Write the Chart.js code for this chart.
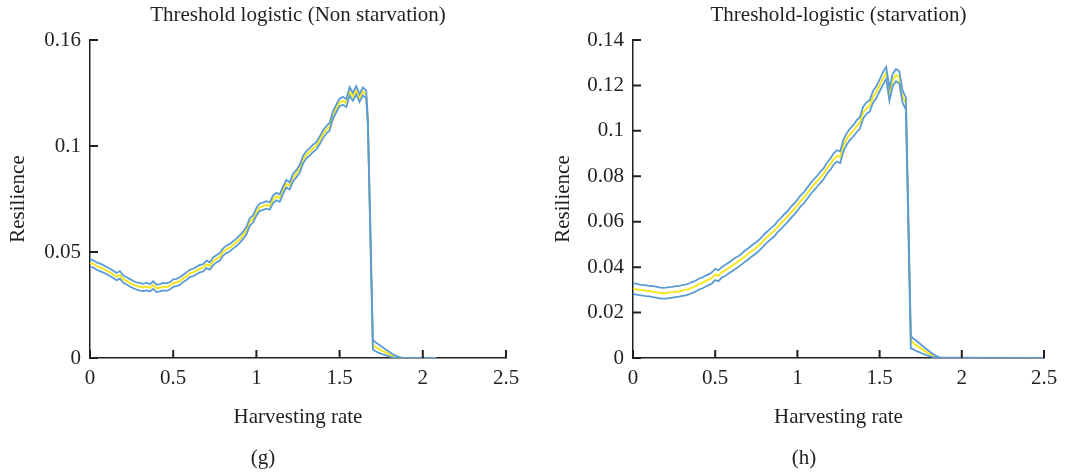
<!DOCTYPE html>
<html>
<head>
<meta charset="utf-8">
<script src="https://cdn.jsdelivr.net/npm/chart.js@4.4.1/dist/chart.umd.min.js"></script>
<style>
  body { margin: 0; background: #fff; }
  #wrap { position: relative; width: 1072px; height: 472px; }
  canvas { position: absolute; top: 0; }
  .tag { position: absolute; top: 445px; font: 21px/24px 'Liberation Serif', serif; color: #231f20; transform: translateX(-50%); }
</style>
</head>
<body>
<div id="wrap">
  <canvas id="chartG" width="536" height="472" style="left:0"></canvas>
  <canvas id="chartH" width="536" height="472" style="left:536px"></canvas>
  <div class="tag" style="left:263px">(g)</div>
  <div class="tag" style="left:804px">(h)</div>
</div>
<script>
// harvesting rate grid shared by both panels (0 .. 1.66)
const gridX = [0,0.02,0.04,0.06,0.08,0.1,0.12,0.14,0.16,0.18,0.2,0.22,0.24,0.26,0.28,0.3,0.32,0.34,0.36,0.38,
  0.4,0.42,0.44,0.46,0.48,0.5,0.52,0.54,0.56,0.58,0.6,0.62,0.64,0.66,0.68,0.7,0.72,0.74,0.76,0.78,
  0.8,0.82,0.84,0.86,0.88,0.9,0.92,0.94,0.96,0.98,1,1.02,1.04,1.06,1.08,1.1,1.12,1.14,1.16,1.18,
  1.2,1.22,1.24,1.26,1.28,1.3,1.32,1.34,1.36,1.38,1.4,1.42,1.44,1.46,1.48,1.5,1.52,1.54,1.56,1.58,
  1.6,1.62,1.64,1.66];
const tailXG = [1.67,1.7,1.72,1.74,1.76,1.78,1.8,1.82,1.84,1.86,1.88,2.08];
const tailXH = [1.69,1.7,1.72,1.74,1.76,1.78,1.8,1.82,1.84,1.86,1.88,2.5];

// (g) threshold logistic, non starvation
const meanG = [.0448,.0444,.0433,.0428,.0420,.0412,.0404,.0394,.0384,.0392,
  .0372,.0364,.0354,.0346,.0340,.0336,.0333,.0337,.0331,.0344,
  .0329,.0331,.0337,.0334,.0341,.0353,.0356,.0363,.0376,.0386,
  .0399,.0403,.0413,.0421,.0426,.0441,.0434,.0456,.0468,.0477,
  .0500,.0512,.0521,.0533,.0546,.0560,.0579,.0601,.0641,.0656,
  .0690,.0711,.0716,.0722,.0717,.0748,.0762,.0754,.0791,.0822,
  .0812,.0851,.0869,.0892,.0935,.0958,.0973,.0988,.1001,.1026,
  .1055,.1076,.1091,.1146,.1177,.1205,.1213,.1202,.1257,.1232,
  .1262,.1226,.1257,.1243,
  .1110,.0062,.0050,.0041,.0033,.0025,.0017,.0010,.0005,.0002,0,0];
const upperG = [.0466,.0461,.0451,.0445,.0438,.0429,.0421,.0412,.0401,.0410,
  .0389,.0381,.0372,.0363,.0357,.0354,.0350,.0355,.0348,.0362,
  .0346,.0349,.0354,.0352,.0358,.0371,.0373,.0381,.0393,.0404,
  .0416,.0421,.0430,.0439,.0443,.0459,.0451,.0474,.0485,.0495,
  .0517,.0530,.0538,.0551,.0563,.0578,.0596,.0619,.0659,.0673,
  .0708,.0729,.0733,.0740,.0734,.0766,.0779,.0772,.0808,.0840,
  .0829,.0869,.0886,.0910,.0953,.0976,.0990,.1006,.1018,.1044,
  .1073,.1094,.1109,.1164,.1195,.1223,.1232,.1221,.1277,.1251,
  .1282,.1245,.1276,.1262,
  .1125,.0085,.0072,.0061,.0050,.0039,.0028,.0018,.0010,.0004,.0001,0];
const lowerG = [.0430,.0427,.0416,.0410,.0403,.0395,.0387,.0377,.0367,.0374,
  .0355,.0347,.0337,.0329,.0323,.0318,.0316,.0319,.0314,.0326,
  .0311,.0314,.0319,.0317,.0323,.0336,.0339,.0345,.0359,.0368,
  .0382,.0386,.0395,.0404,.0408,.0424,.0417,.0438,.0451,.0460,
  .0483,.0494,.0504,.0516,.0528,.0543,.0562,.0583,.0623,.0639,
  .0672,.0694,.0699,.0704,.0700,.0731,.0744,.0737,.0774,.0804,
  .0795,.0833,.0852,.0874,.0917,.0941,.0955,.0971,.0984,.1008,
  .1037,.1059,.1073,.1128,.1159,.1188,.1195,.1184,.1238,.1214,
  .1243,.1208,.1239,.1225,
  .1095,.0040,.0030,.0023,.0017,.0012,.0007,.0003,.0001,0,0,0];

// (h) threshold-logistic, starvation
const meanH = [.0305,.0302,.0300,.0298,.0296,.0295,.0292,.0290,.0287,.0285,
  .0285,.0288,.0290,.0292,.0293,.0297,.0300,.0304,.0310,.0316,
  .0325,.0330,.0338,.0345,.0352,.0368,.0362,.0378,.0385,.0395,
  .0405,.0415,.0425,.0435,.0447,.0458,.0470,.0480,.0492,.0505,
  .0522,.0535,.0548,.0560,.0578,.0592,.0608,.0622,.0640,.0655,
  .0672,.0692,.0706,.0725,.0745,.0762,.0778,.0795,.0812,.0835,
  .0852,.0875,.0890,.0885,.0935,.0965,.0985,.1000,.1020,.1035,
  .1080,.1100,.1110,.1150,.1170,.1200,.1230,.1255,.1160,.1225,
  .1245,.1235,.1150,.1120,
  .0080,.0068,.0058,.0048,.0038,.0028,.0020,.0012,.0006,.0002,0,0];
const upperH = [.0329,.0327,.0323,.0322,.0320,.0318,.0316,.0314,.0311,.0309,
  .0310,.0312,.0313,.0316,.0318,.0321,.0323,.0328,.0334,.0340,
  .0349,.0354,.0362,.0368,.0377,.0393,.0386,.0401,.0409,.0419,
  .0429,.0440,.0448,.0459,.0472,.0482,.0494,.0505,.0516,.0530,
  .0546,.0559,.0573,.0584,.0603,.0616,.0633,.0646,.0665,.0679,
  .0697,.0717,.0730,.0750,.0769,.0787,.0802,.0820,.0836,.0860,
  .0877,.0900,.0915,.0910,.0960,.0990,.1010,.1025,.1046,.1060,
  .1106,.1125,.1135,.1176,.1196,.1226,.1257,.1282,.1188,.1252,
  .1272,.1262,.1177,.1147,
  .0100,.0088,.0078,.0066,.0054,.0042,.0031,.0020,.0011,.0004,.0001,0];
const lowerH = [.0282,.0279,.0277,.0275,.0272,.0271,.0268,.0266,.0263,.0261,
  .0262,.0264,.0266,.0268,.0270,.0273,.0276,.0280,.0286,.0292,
  .0301,.0306,.0314,.0321,.0328,.0343,.0338,.0354,.0361,.0371,
  .0381,.0391,.0401,.0411,.0423,.0434,.0446,.0456,.0468,.0481,
  .0498,.0511,.0524,.0536,.0554,.0568,.0584,.0598,.0616,.0631,
  .0648,.0668,.0682,.0701,.0721,.0738,.0754,.0771,.0788,.0811,
  .0828,.0851,.0865,.0858,.0910,.0940,.0960,.0975,.0994,.1010,
  .1054,.1075,.1085,.1124,.1144,.1174,.1203,.1228,.1132,.1198,
  .1218,.1208,.1123,.1093,
  .0042,.0040,.0032,.0026,.0020,.0014,.0009,.0005,.0002,0,0,0];

const xTickLabels = ['0', '0.5', '1', '1.5', '2', '2.5'];
const yTickLabelsG = ['0', '0.05', '0.1', '0.16'];
const yTickLabelsH = ['0', '0.02', '0.04', '0.06', '0.08', '0.1', '0.12', '0.14'];

const BLUE = '#5b9bd5';
const YELLOW = '#f5e61e';
const INK = '#231f20';
const FONT = "'Liberation Serif', 'Times New Roman', serif";
const FS = 21;

// small tick marks drawn inward from the axes
const innerTicks = {
  id: 'innerTicks',
  afterDraw(chart) {
    const { ctx, chartArea: a, scales: { x, y } } = chart;
    ctx.save();
    ctx.strokeStyle = INK;
    ctx.lineWidth = 2;
    ctx.beginPath();
    x.ticks.forEach(t => {
      const px = x.getPixelForValue(t.value);
      ctx.moveTo(px, a.bottom);
      ctx.lineTo(px, a.bottom - 8);
    });
    y.ticks.forEach(t => {
      const py = y.getPixelForValue(t.value);
      ctx.moveTo(a.left, py);
      ctx.lineTo(a.left + 8, py);
    });
    ctx.stroke();
    ctx.restore();
  }
};

function points(xs, ys) {
  return xs.map((x, i) => ({ x: x, y: ys[i] }));
}

function makeChart(id, cfg) {
  const xs = gridX.concat(cfg.tailX);
  return new Chart(document.getElementById(id), {
    type: 'line',
    data: {
      datasets: [
        { data: points(xs, cfg.upper), borderColor: BLUE, borderWidth: 1.8 },
        { data: points(xs, cfg.lower), borderColor: BLUE, borderWidth: 1.8 },
        { data: points(xs, cfg.mean), borderColor: YELLOW, borderWidth: 2 }
      ]
    },
    options: {
      responsive: false,
      animation: false,
      elements: { point: { radius: 0 }, line: { tension: 0 } },
      layout: { padding: { left: 0, right: cfg.padRight, top: 0, bottom: 34 } },
      plugins: {
        legend: { display: false },
        tooltip: { enabled: false },
        title: {
          display: true,
          text: cfg.title,
          fullSize: false,
          color: INK,
          font: { family: FONT, size: FS, weight: 'normal', lineHeight: 1.2 },
          padding: { top: 2.4, bottom: 12.4 }
        }
      },
      scales: {
        x: {
          type: 'linear',
          min: 0, max: 2.5,
          afterFit: s => { s.height = 80; },
          grid: { drawOnChartArea: false, drawTicks: false },
          border: { display: true, color: INK, width: 1.5 },
          ticks: {
            stepSize: 0.5, padding: 7.5, color: INK,
            font: { family: FONT, size: FS },
            callback: (v, i) => xTickLabels[i]
          },
          title: {
            display: true, text: 'Harvesting rate', color: INK,
            font: { family: FONT, size: FS, lineHeight: 1.2 },
            padding: { top: 0, bottom: 8.4 }
          }
        },
        y: {
          min: 0, max: cfg.yMax,
          afterFit: s => { s.width = cfg.yWidth; },
          grid: { drawOnChartArea: false, drawTicks: false },
          border: { display: true, color: INK, width: 1.5 },
          ticks: {
            stepSize: cfg.yStep, padding: 9, color: INK,
            font: { family: FONT, size: FS },
            callback: (v, i) => cfg.yLabels[i]
          },
          title: {
            display: true, text: 'Resilience', color: INK,
            font: { family: FONT, size: FS, lineHeight: 1.2 },
            padding: { top: cfg.yTitlePad, bottom: 0 }
          }
        }
      }
    },
    plugins: [innerTicks]
  });
}

makeChart('chartG', {
  title: 'Threshold logistic (Non starvation)',
  tailX: tailXG, mean: meanG, upper: upperG, lower: lowerG,
  yMax: 0.15, yStep: 0.05, yLabels: yTickLabelsG,
  yWidth: 90, yTitlePad: 5.4, padRight: 30
});

makeChart('chartH', {
  title: 'Threshold-logistic (starvation)',
  tailX: tailXH, mean: meanH, upper: upperH, lower: lowerH,
  yMax: 0.14, yStep: 0.02, yLabels: yTickLabelsH,
  yWidth: 97, yTitlePad: 14.4, padRight: 28
});
</script>
</body>
</html>
